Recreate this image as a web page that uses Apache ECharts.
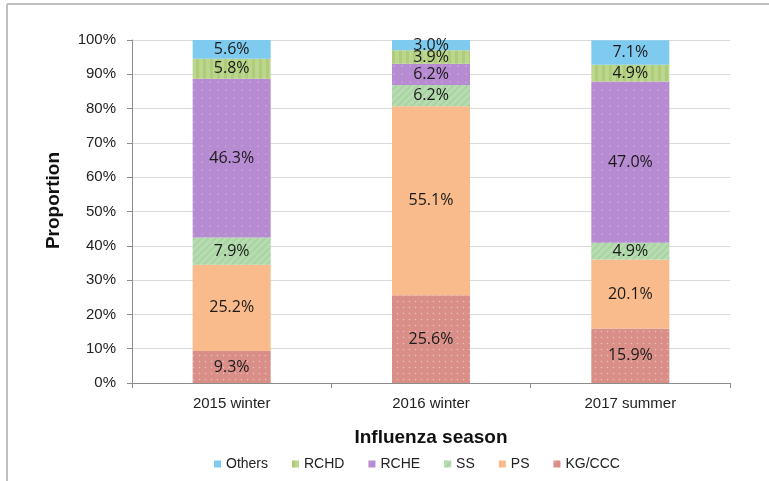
<!DOCTYPE html>
<html><head><meta charset="utf-8">
<script src="https://cdn.jsdelivr.net/npm/echarts@6/dist/echarts.min.js"></script>
<style>html,body{margin:0;padding:0;background:#fff}#c{width:769px;height:481px}</style>
</head><body><div id="c"></div>
<script>
const categories = ['2015 winter', '2016 winter', '2017 summer'];
const kgccc = [9.3, 25.6, 15.9];
const ps = [25.2, 55.1, 20.1];
const ss = [7.9, 6.2, 4.9];
const rche = [46.3, 6.2, 47.0];
const rchd = [5.8, 3.9, 4.9];
const others = [5.6, 3.0, 7.1];
const yTicks = [0, 10, 20, 30, 40, 50, 60, 70, 80, 90, 100];

const dots = {symbol: 'circle', symbolSize: 0.5, dashArrayX: [3, 3], dashArrayY: [3, 3], color: 'rgba(255,255,255,0.45)'};
const seriesDefs = [
  ['KG/CCC', kgccc, '#d98f88', dots],
  ['PS', ps, '#f9bb8c', null],
  ['SS', ss, '#b5ddb0', {symbol: 'rect', dashArrayX: [1, 0], dashArrayY: [2, 3], rotation: -Math.PI / 4, color: 'rgba(150,190,140,0.35)'}],
  ['RCHE', rche, '#b68bd1', {symbol: 'circle', symbolSize: 0.4, dashArrayX: [4, 4], dashArrayY: [4, 4], color: 'rgba(255,255,255,0.3)'}],
  ['RCHD', rchd, '#bcd68e', {symbol: 'rect', dashArrayX: [3, 4], dashArrayY: [1, 0], color: 'rgba(150,190,90,0.35)'}],
  ['Others', others, '#7fcbef', null]
];
const chart = echarts.init(document.getElementById('c'));
chart.setOption({
  animation: false,
  grid: {left: 132, right: 39, top: 40, bottom: 98},
  legend: {
    data: ['Others', 'RCHD', 'RCHE', 'SS', 'PS', 'KG/CCC'],
    bottom: 5, left: 209, icon: 'rect', itemWidth: 7, itemHeight: 7, itemGap: 24,
    textStyle: {fontFamily: 'Liberation Sans', fontSize: 14, color: '#222'}
  },
  xAxis: {
    type: 'category', data: categories,
    name: 'Influenza season', nameLocation: 'middle', nameGap: 45,
    nameTextStyle: {fontFamily: 'Liberation Sans', fontSize: 19, fontWeight: 'bold', color: '#111'},
    axisLine: {lineStyle: {color: '#8c8c8c'}},
    axisTick: {show: true, length: 5, lineStyle: {color: '#8c8c8c'}},
    axisLabel: {fontFamily: 'Liberation Sans', fontSize: 15, color: '#222', margin: 13}
  },
  yAxis: {
    type: 'value', min: 0, max: 100, interval: 10,
    name: 'Proportion', nameLocation: 'middle', nameGap: 69,
    nameTextStyle: {fontFamily: 'Liberation Sans', fontSize: 19, fontWeight: 'bold', color: '#111', padding: [0, 0, 0, 22]},
    axisLine: {show: true, lineStyle: {color: '#8c8c8c'}},
    axisTick: {show: true, length: 5, lineStyle: {color: '#8c8c8c'}},
    splitLine: {lineStyle: {color: '#dadada'}},
    axisLabel: {fontFamily: 'Liberation Sans', fontSize: 15, color: '#222', margin: 16,
      formatter: v => yTicks.includes(v) ? v + '%' : ''}
  },
  series: seriesDefs.map(([name, data, color, decal]) => ({
    name, type: 'bar', stack: 'all', data, barWidth: 78,
    itemStyle: decal ? {color, decal} : {color},
    label: {show: true, position: 'inside', formatter: p => p.value.toFixed(1) + '%',
      fontFamily: 'Open Sans', fontSize: 16, color: '#1a1a1a'}
  })),
  graphic: [
    {type: 'line', shape: {x1: 7, y1: 4, x2: 769, y2: 4}, style: {stroke: '#c0c0c0', lineWidth: 2}},
    {type: 'line', shape: {x1: 7, y1: 4, x2: 7, y2: 481}, style: {stroke: '#c0c0c0', lineWidth: 2}}
  ]
});
</script></body></html>
